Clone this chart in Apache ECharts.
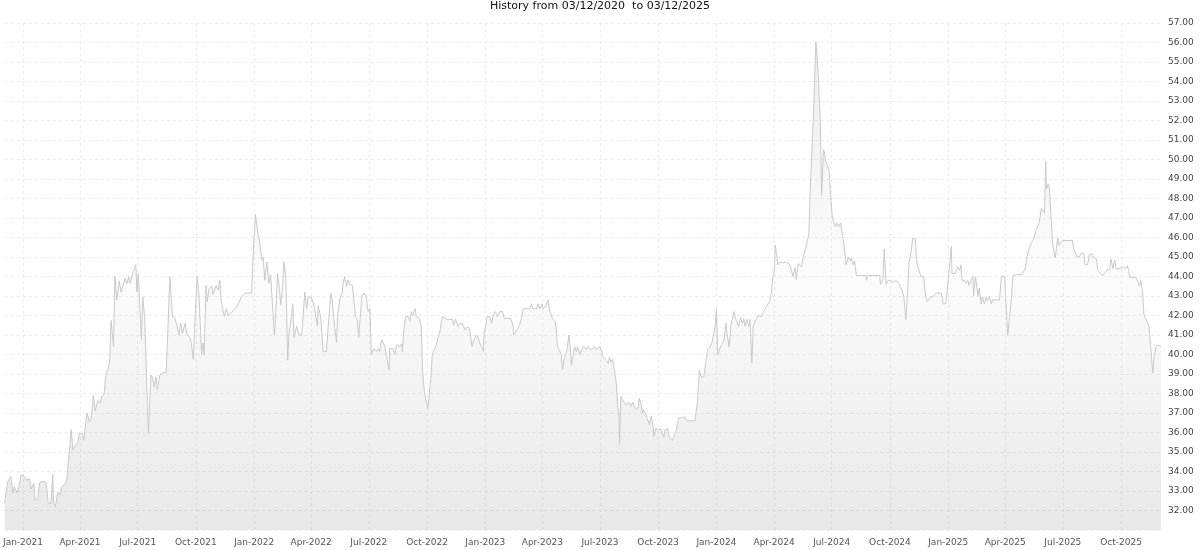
<!DOCTYPE html>
<html>
<head>
<meta charset="utf-8">
<title>History</title>
<script src="https://cdn.jsdelivr.net/npm/echarts@6/dist/echarts.min.js"></script>
<style>
  html, body { margin: 0; padding: 0; background: #fff; }
  #chart { width: 1200px; height: 550px; }
</style>
</head>
<body>
<div id="chart"></div>
<script>
// closing prices (one line per month)
const dates = [
  '2020-12-03','2020-12-08','2020-12-13','2020-12-16','2020-12-18','2020-12-23','2020-12-25','2020-12-29',
  '2021-01-03','2021-01-07','2021-01-11','2021-01-14','2021-01-18','2021-01-20','2021-01-24','2021-01-27','2021-01-31',
  '2021-02-06','2021-02-10','2021-02-14','2021-02-17','2021-02-18','2021-02-21','2021-02-25',
  '2021-03-01','2021-03-03','2021-03-09','2021-03-11','2021-03-15','2021-03-18','2021-03-21','2021-03-24','2021-03-29','2021-03-31',
  '2021-04-05','2021-04-07','2021-04-12','2021-04-16','2021-04-19','2021-04-22','2021-04-25','2021-04-29',
  '2021-05-03','2021-05-05','2021-05-09','2021-05-12','2021-05-16','2021-05-18','2021-05-20','2021-05-23','2021-05-24','2021-05-26','2021-05-29',
  '2021-06-02','2021-06-05','2021-06-09','2021-06-11','2021-06-14','2021-06-17','2021-06-19','2021-06-22','2021-06-24','2021-06-28','2021-06-30',
  '2021-07-02','2021-07-05','2021-07-07','2021-07-09','2021-07-12','2021-07-14','2021-07-18','2021-07-22','2021-07-25','2021-07-27','2021-07-30',
  '2021-08-01','2021-08-05','2021-08-08','2021-08-11','2021-08-15','2021-08-16','2021-08-19','2021-08-21','2021-08-25','2021-08-29',
  '2021-09-01','2021-09-04','2021-09-07','2021-09-10','2021-09-14','2021-09-17','2021-09-22','2021-09-24','2021-09-27','2021-09-30',
  '2021-10-03','2021-10-06','2021-10-10','2021-10-12','2021-10-14','2021-10-17','2021-10-19','2021-10-22','2021-10-26','2021-10-28',
  '2021-11-02','2021-11-05','2021-11-08','2021-11-10','2021-11-12','2021-11-15','2021-11-18','2021-11-21','2021-11-27',
  '2021-12-02','2021-12-07','2021-12-12','2021-12-18','2021-12-21','2021-12-24','2021-12-28','2021-12-31',
  '2022-01-03','2022-01-06','2022-01-10','2022-01-13','2022-01-15','2022-01-18','2022-01-21','2022-01-24','2022-01-27','2022-01-30',
  '2022-02-02','2022-02-04','2022-02-07','2022-02-10','2022-02-12','2022-02-15','2022-02-17','2022-02-20','2022-02-23','2022-02-25',
  '2022-03-01','2022-03-03','2022-03-05','2022-03-09','2022-03-13','2022-03-17','2022-03-22','2022-03-25','2022-03-27',
  '2022-04-01','2022-04-05','2022-04-08','2022-04-11','2022-04-12','2022-04-16','2022-04-20','2022-04-25','2022-04-28',
  '2022-05-02','2022-05-04','2022-05-08','2022-05-11','2022-05-13','2022-05-17','2022-05-20','2022-05-21','2022-05-24','2022-05-27','2022-05-29',
  '2022-06-01','2022-06-05','2022-06-07','2022-06-10','2022-06-13','2022-06-15','2022-06-18','2022-06-20','2022-06-23','2022-06-27','2022-06-30',
  '2022-07-03','2022-07-05','2022-07-08','2022-07-09','2022-07-13','2022-07-16','2022-07-18','2022-07-21','2022-07-24','2022-07-26','2022-07-30',
  '2022-08-02','2022-08-03','2022-08-08','2022-08-11','2022-08-14','2022-08-16','2022-08-19','2022-08-22','2022-08-23','2022-08-25','2022-08-28',
  '2022-09-01','2022-09-04','2022-09-06','2022-09-09','2022-09-12','2022-09-14','2022-09-19','2022-09-22','2022-09-24','2022-09-26','2022-09-27','2022-09-30',
  '2022-10-02','2022-10-04','2022-10-06','2022-10-08','2022-10-09','2022-10-12','2022-10-16','2022-10-18','2022-10-21','2022-10-24','2022-10-26','2022-10-29',
  '2022-11-01','2022-11-06','2022-11-10','2022-11-12','2022-11-15','2022-11-19','2022-11-22','2022-11-26','2022-11-30',
  '2022-12-03','2022-12-07','2022-12-11','2022-12-14','2022-12-18','2022-12-21','2022-12-23','2022-12-26','2022-12-29','2022-12-30',
  '2023-01-02','2023-01-04','2023-01-08','2023-01-11','2023-01-13','2023-01-17','2023-01-20','2023-01-24','2023-01-28','2023-01-31',
  '2023-02-03','2023-02-06','2023-02-10','2023-02-14','2023-02-15','2023-02-19','2023-02-24','2023-02-27',
  '2023-03-02','2023-03-07','2023-03-12','2023-03-15','2023-03-17','2023-03-23','2023-03-25','2023-03-28',
  '2023-04-01','2023-04-02','2023-04-06','2023-04-10','2023-04-13','2023-04-17','2023-04-21','2023-04-23','2023-04-25','2023-04-28',
  '2023-05-01','2023-05-03','2023-05-05','2023-05-08','2023-05-10','2023-05-13','2023-05-15','2023-05-17','2023-05-19','2023-05-22','2023-05-25','2023-05-27','2023-05-30',
  '2023-06-02','2023-06-05','2023-06-10','2023-06-12','2023-06-17','2023-06-23','2023-06-25',
  '2023-07-01','2023-07-03','2023-07-06','2023-07-08','2023-07-11','2023-07-14','2023-07-16','2023-07-19','2023-07-21','2023-07-24','2023-07-27','2023-07-29','2023-07-31',
  '2023-08-01','2023-08-03','2023-08-06','2023-08-09','2023-08-12','2023-08-16','2023-08-19','2023-08-22','2023-08-25','2023-08-30',
  '2023-09-01','2023-09-04','2023-09-06','2023-09-08','2023-09-11','2023-09-13','2023-09-16','2023-09-17','2023-09-20','2023-09-23','2023-09-24','2023-09-27',
  '2023-10-01','2023-10-06','2023-10-10','2023-10-12','2023-10-16','2023-10-19','2023-10-22','2023-10-24','2023-10-27','2023-10-30',
  '2023-11-02','2023-11-07','2023-11-12','2023-11-15','2023-11-17','2023-11-23','2023-11-28','2023-11-30',
  '2023-12-02','2023-12-05','2023-12-08','2023-12-12','2023-12-15','2023-12-18','2023-12-22','2023-12-25','2023-12-28','2023-12-30',
  '2024-01-01','2024-01-03','2024-01-05','2024-01-09','2024-01-13','2024-01-16','2024-01-18','2024-01-21','2024-01-24','2024-01-26','2024-01-29','2024-01-31',
  '2024-02-03','2024-02-05','2024-02-08','2024-02-11','2024-02-13','2024-02-15','2024-02-18','2024-02-21','2024-02-23','2024-02-26','2024-02-28',
  '2024-03-03','2024-03-07','2024-03-12','2024-03-15','2024-03-17','2024-03-20','2024-03-23','2024-03-25','2024-03-28','2024-03-30',
  '2024-04-01','2024-04-03','2024-04-05','2024-04-07','2024-04-10','2024-04-14','2024-04-16','2024-04-21','2024-04-24','2024-04-26','2024-04-28',
  '2024-05-01','2024-05-04','2024-05-06','2024-05-09','2024-05-14','2024-05-17','2024-05-19','2024-05-22','2024-05-25','2024-05-26','2024-05-28','2024-05-31',
  '2024-06-03','2024-06-06','2024-06-08','2024-06-10','2024-06-13','2024-06-15','2024-06-18','2024-06-20','2024-06-21','2024-06-23','2024-06-27','2024-06-29',
  '2024-07-02','2024-07-04','2024-07-07','2024-07-09','2024-07-12','2024-07-15','2024-07-17','2024-07-20','2024-07-23','2024-07-24','2024-07-27','2024-07-30',
  '2024-08-01','2024-08-04','2024-08-06','2024-08-09','2024-08-14','2024-08-19','2024-08-24','2024-08-25','2024-08-27',
  '2024-09-01','2024-09-09','2024-09-15','2024-09-16','2024-09-20','2024-09-22','2024-09-25','2024-09-28',
  '2024-10-02','2024-10-06','2024-10-10','2024-10-14','2024-10-17','2024-10-20','2024-10-23','2024-10-26','2024-10-29','2024-10-31',
  '2024-11-03','2024-11-06','2024-11-10','2024-11-12','2024-11-14','2024-11-17','2024-11-19','2024-11-23','2024-11-26','2024-11-29',
  '2024-12-02','2024-12-04','2024-12-08','2024-12-12','2024-12-16','2024-12-21','2024-12-24','2024-12-28','2024-12-31',
  '2025-01-02','2025-01-04','2025-01-06','2025-01-07','2025-01-12','2025-01-16','2025-01-19','2025-01-21','2025-01-23','2025-01-27','2025-01-29',
  '2025-02-01','2025-02-03','2025-02-06','2025-02-09','2025-02-10','2025-02-13','2025-02-15','2025-02-17','2025-02-19','2025-02-22','2025-02-24','2025-02-27',
  '2025-03-02','2025-03-04','2025-03-07','2025-03-10','2025-03-12','2025-03-18','2025-03-23','2025-03-26','2025-03-31',
  '2025-04-03','2025-04-05','2025-04-08','2025-04-11','2025-04-13','2025-04-16','2025-04-19','2025-04-21','2025-04-27',
  '2025-05-02','2025-05-04','2025-05-07','2025-05-10','2025-05-12','2025-05-15','2025-05-18','2025-05-20','2025-05-23','2025-05-25','2025-05-27','2025-05-28','2025-05-31',
  '2025-06-02','2025-06-04','2025-06-05','2025-06-08','2025-06-10','2025-06-12','2025-06-15','2025-06-16','2025-06-19','2025-06-21','2025-06-23','2025-06-25','2025-06-28',
  '2025-07-01','2025-07-06','2025-07-11','2025-07-16','2025-07-18','2025-07-21','2025-07-23','2025-07-27','2025-07-30',
  '2025-08-03','2025-08-05','2025-08-09','2025-08-12','2025-08-16','2025-08-19','2025-08-23','2025-08-25','2025-08-28',
  '2025-09-02','2025-09-08','2025-09-13','2025-09-15','2025-09-18','2025-09-21','2025-09-23','2025-09-28',
  '2025-10-04','2025-10-08','2025-10-11','2025-10-13','2025-10-15','2025-10-19','2025-10-25','2025-10-27','2025-10-30',
  '2025-11-01','2025-11-04','2025-11-06','2025-11-09','2025-11-12','2025-11-14','2025-11-17','2025-11-20','2025-11-22','2025-11-25','2025-11-29',
  '2025-12-03'
]
const prices = [
  32.4, 33.5, 33.75, 32.9, 33.2, 32.9, 33.1, 33.85,
  33.75, 33.55, 33.65, 33.1, 33.4, 32.55, 32.55, 33.4, 33.5,
  33.45, 32.4, 32.35, 33.85, 32.4, 32.2, 32.95,
  32.8, 33.2, 33.4, 33.55, 34.95, 36.15, 35.1, 35.3, 35.55, 35.95,
  35.95, 35.6, 37.0, 36.55, 36.75, 37.9, 37.1, 37.65,
  37.5, 37.85, 37.95, 39.05, 39.3, 39.8, 41.75, 41.75, 40.4, 44.0, 42.8,
  43.75, 43.2, 43.65, 43.9, 43.65, 44.0, 43.65, 43.7, 44.25, 44.6, 43.2,
  44.15, 44.15, 40.75, 42.95, 41.95, 40.0, 35.95, 38.95, 38.8, 38.35, 38.85,
  38.2, 38.95, 38.95, 39.1, 39.05, 39.8, 39.8, 44.0, 41.95, 41.85,
  41.5, 41.0, 41.6, 41.1, 41.6, 41.05, 40.85, 40.55, 39.75, 42.1,
  44.0, 42.95, 40.0, 40.6, 40.0, 43.55, 42.7, 43.4, 43.5, 43.1,
  43.55, 43.3, 43.8, 42.8, 42.35, 41.95, 42.35, 42.0, 42.2,
  42.35, 42.6, 42.95, 43.15, 43.05, 43.15, 43.15, 45.5,
  47.2, 46.4, 45.7, 44.85, 45.0, 43.8, 44.75, 43.65, 44.1, 44.0,
  41.0, 42.1, 44.15, 43.3, 42.55, 43.5, 44.75, 43.9, 39.7, 41.1,
  41.95, 42.6, 40.85, 41.45, 41.0, 41.0, 43.2, 42.35, 42.95,
  42.95, 42.6, 42.5, 41.45, 42.5, 41.95, 40.15, 40.15, 41.45,
  43.15, 42.85, 41.45, 40.6, 42.1, 42.95, 43.15, 43.55, 44.0, 43.5, 43.8,
  43.6, 43.55, 42.95, 41.95, 41.8, 40.85, 40.85, 42.95, 43.15, 42.95, 42.2,
  42.35, 40.0, 40.0, 40.3, 40.15, 40.3, 40.15, 40.75, 40.75, 40.45, 39.75,
  39.2, 40.3, 40.3, 40.0, 40.5, 40.5, 40.4, 40.55, 40.15, 41.1, 41.95,
  41.95, 41.7, 42.2, 42.0, 42.35, 41.95, 41.85, 41.4, 39.2, 39.2, 38.0, 37.6,
  37.2, 37.75, 37.75, 39.2, 39.9, 40.25, 40.5, 40.85, 41.1, 41.75, 41.95, 41.85,
  41.8, 41.8, 41.8, 41.5, 41.8, 41.45, 41.6, 41.6, 41.25,
  41.4, 41.35, 40.4, 40.75, 41.0, 40.85, 40.6, 40.4, 40.15, 41.15,
  41.5, 41.95, 41.95, 41.6, 41.95, 42.2, 41.95, 42.2, 42.2, 41.85,
  41.95, 41.85, 41.85, 41.45, 41.0, 41.2, 41.5, 41.85,
  42.35, 42.35, 42.35, 42.6, 42.35, 42.35, 42.6, 42.35,
  42.6, 42.35, 42.45, 42.8, 42.2, 41.85, 41.7, 41.35, 40.4, 40.3,
  40.0, 39.2, 39.7, 39.6, 40.25, 41.0, 40.4, 39.45, 39.45, 40.4, 40.15, 40.4, 40.0,
  40.25, 40.4, 40.25, 40.4, 40.25, 40.4, 40.25,
  40.4, 40.4, 39.9, 39.95, 39.7, 39.55, 39.85, 39.6, 39.75, 39.2, 38.5, 37.4, 37.0,
  35.4, 37.85, 37.65, 37.7, 37.4, 37.55, 37.35, 37.55, 37.25, 37.25,
  37.75, 37.45, 37.0, 37.15, 37.0, 36.75, 36.55, 36.4, 36.85, 36.3, 35.8, 36.2,
  36.15, 36.15, 35.75, 36.15, 36.2, 35.75, 35.7, 35.6, 35.95, 36.15,
  36.75, 36.75, 36.8, 36.6, 36.6, 36.6, 36.6, 36.6,
  37.6, 39.2, 38.85, 38.85, 39.55, 40.25, 40.4, 40.6, 40.6, 41.45,
  42.35, 40.0, 40.2, 40.5, 40.75, 41.6, 41.0, 40.4, 41.5, 41.8, 42.2, 41.85,
  41.9, 41.45, 41.9, 41.6, 41.85, 41.45, 41.8, 41.45, 41.8, 39.55, 41.45,
  41.75, 42.0, 41.95, 41.95, 42.3, 42.5, 42.4, 42.7, 43.2, 44.0,
  44.15, 45.6, 45.1, 44.6, 44.75, 44.7, 44.75, 44.75, 44.75, 44.6, 44.5,
  44.0, 44.45, 43.85, 44.65, 44.5, 45.0, 45.2, 45.6, 45.6, 46.2, 48.35, 50.5,
  53.05, 56.05, 55.25, 54.2, 52.0, 48.15, 50.5, 50.3, 49.95, 50.0, 49.45, 48.25,
  47.0, 47.0, 46.55, 46.75, 46.55, 46.75, 46.75, 45.7, 44.85, 44.6, 45.0, 44.8,
  44.95, 44.6, 44.8, 44.05, 44.05, 44.05, 44.05, 43.8, 44.05,
  44.05, 44.05, 44.05, 43.6, 43.85, 45.4, 43.6, 43.8,
  43.8, 43.7, 43.8, 43.7, 43.65, 43.3, 42.95, 41.8, 43.3, 44.75,
  45.2, 45.95, 45.95, 44.85, 44.5, 44.5, 44.0, 44.0, 43.05, 42.7,
  42.6, 42.95, 42.95, 43.15, 43.15, 43.15, 42.6, 42.6, 42.6,
  44.15, 44.15, 45.55, 44.15, 44.15, 44.5, 44.3, 44.6, 43.8, 43.8, 43.65,
  43.8, 43.55, 43.55, 44.0, 43.0, 44.0, 44.0, 43.0, 43.4, 42.6, 42.95, 42.6,
  42.95, 42.75, 42.95, 42.6, 42.8, 42.8, 42.8, 44.0, 44.0,
  44.0, 41.0, 41.95, 42.95, 44.05, 44.15, 44.1, 44.05, 44.1,
  44.35, 44.4, 45.25, 45.3, 45.7, 45.85, 45.9, 46.4, 46.3, 46.8, 46.85, 47.5, 47.4,
  47.25, 49.9, 48.5, 48.75, 48.5, 47.25, 45.6, 45.45, 44.95, 44.95, 46.0, 45.6, 45.6,
  45.85, 45.85, 45.85, 45.85, 45.45, 45.5, 45.0, 45.0, 45.2,
  45.2, 44.6, 44.6, 45.15, 45.15, 44.95, 44.9, 44.35, 44.2,
  44.05, 44.3, 44.35, 44.9, 44.4, 44.85, 44.4, 44.4,
  44.5, 44.4, 44.55, 44.3, 43.95, 43.95, 43.95, 43.75, 43.5,
  43.8, 43.15, 42.05, 41.95, 41.6, 41.45, 40.3, 39.05, 39.9, 40.4, 40.5,
  40.4
]
// quarter starts used for the bottom labels and the vertical grid
const quarterTicks = [
  '2021-01-01','2021-04-01','2021-07-01','2021-10-01',
  '2022-01-01','2022-04-01','2022-07-01','2022-10-01',
  '2023-01-01','2023-04-01','2023-07-01','2023-10-01',
  '2024-01-01','2024-04-01','2024-07-01','2024-10-01',
  '2025-01-01','2025-04-01','2025-07-01','2025-10-01'
]
const monthNames = ['Jan','Feb','Mar','Apr','May','Jun','Jul','Aug','Sep','Oct','Nov','Dec']

function toTime (s) {
  const p = s.split('-')
  return new Date(+p[0], +p[1] - 1, +p[2]).getTime()
}

const seriesData = dates.map((d, i) => [toTime(d), prices[i]])
const tickValues = quarterTicks.map(toTime)

const myChart = echarts.init(document.getElementById('chart'))
myChart.setOption({
  animation: false,
  backgroundColor: '#ffffff',
  textStyle: { fontFamily: 'DejaVu Sans' },
  title: {
    text: 'History from 03/12/2020  to 03/12/2025',
    left: 'center',
    top: 1,
    padding: 0,
    textStyle: { fontSize: 11, fontWeight: 'normal', color: '#111', fontFamily: 'DejaVu Sans' }
  },
  grid: {
    left: 4,
    right: 39,
    top: 23,
    bottom: 20
  },
  // time kept as plain timestamps so the quarter ticks can be listed
  xAxis: {
    type: 'value',
    min: toTime('2020-12-03'),
    max: toTime('2025-12-03'),
    axisLine: { show: false },
    axisTick: { show: false, customValues: tickValues },
    axisLabel: {
      customValues: tickValues,
      margin: 8,
      fontSize: 9,
      color: '#555',
      fontFamily: 'DejaVu Sans',
      formatter: function (v) {
        const d = new Date(v)
        return monthNames[d.getMonth()] + '-' + d.getFullYear()
      }
    },
    splitLine: {
      show: true,
      lineStyle: { color: '#ececec', type: [3, 3], width: 1 }
    }
  },
  yAxis: {
    type: 'value',
    position: 'right',
    min: 31,
    max: 57,
    interval: 1,
    axisLine: { show: false },
    axisTick: { show: false },
    axisLabel: {
      showMinLabel: false,
      margin: 7,
      fontSize: 9,
      color: '#444',
      fontFamily: 'DejaVu Sans',
      formatter: function (v) { return v.toFixed(2) }
    },
    splitLine: {
      show: true,
      lineStyle: { color: '#ececec', type: [3, 3], width: 1 }
    }
  },
  series: [
    {
      name: 'History',
      type: 'line',
      data: seriesData,
      showSymbol: false,
      symbol: 'none',
      lineStyle: { color: '#c9c9c9', width: 1 },
      areaStyle: {
        origin: 'start',
        color: {
          type: 'linear',
          x: 0, y: 23, x2: 0, y2: 530,
          global: true,
          colorStops: [
            { offset: 0, color: 'rgba(0,0,0,0.10)' },
            { offset: 0.5, color: 'rgba(0,0,0,0.02)' },
            { offset: 1, color: 'rgba(0,0,0,0.13)' }
          ]
        }
      }
    }
  ]
})
</script>
</body>
</html>
